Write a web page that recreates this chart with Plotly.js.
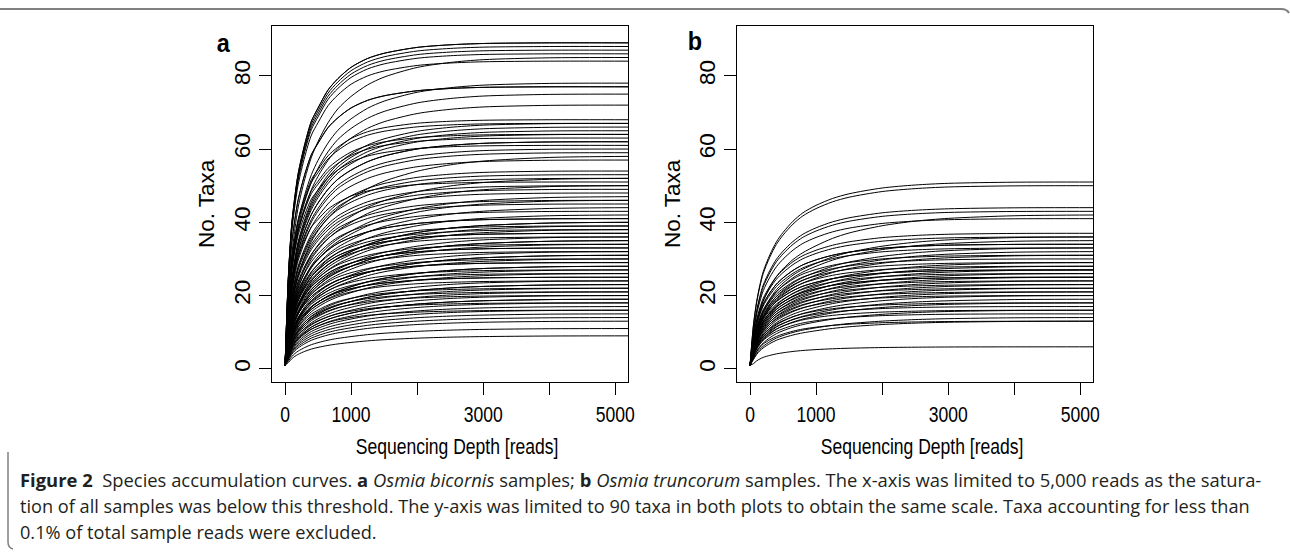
<!DOCTYPE html>
<html>
<head>
<meta charset="utf-8">
<script src="https://cdn.plot.ly/plotly-3.0.1.min.js"></script>
<style>
html,body{margin:0;padding:0;background:#ffffff;}
#chart{width:1290px;height:553px;}
</style>
</head>
<body>
<div id="chart"></div>
<script>
// ---------------- data ----------------
// sequencing depths (reads) at which the curves are sampled
const depthReads = [1, 50, 100, 150, 200, 300, 400, 500, 650, 800, 1000, 1250, 1500, 2000, 2500, 3000, 4000, 5200];
// taxa observed with a single read
const startTaxa = 1;
// fraction of final richness reached at each depth (first entry is the 1-read start)
const shapeFast = [null, 0.28, 0.44, 0.53, 0.60, 0.69, 0.76, 0.80, 0.855, 0.89, 0.925, 0.952, 0.968, 0.986, 0.994, 0.998, 1, 1];
const shapeMid  = [null, 0.23, 0.36, 0.45, 0.52, 0.61, 0.68, 0.73, 0.79, 0.835, 0.875, 0.912, 0.937, 0.968, 0.984, 0.993, 0.999, 1];
const shapeSlow = [null, 0.19, 0.30, 0.38, 0.44, 0.53, 0.60, 0.65, 0.71, 0.755, 0.80, 0.848, 0.883, 0.93, 0.96, 0.978, 0.995, 1];

// panel a: Osmia bicornis samples, final number of taxa per sample
const richnessA = [
  89, 89, 88, 87, 86, 85, 84,
  78, 77, 77, 75, 72,
  68, 67, 67, 66, 65, 64, 64, 63, 62, 62, 61, 60, 59, 58, 57,
  54, 53, 52, 52, 51, 50, 50, 49, 48, 47, 46, 46,
  45, 44, 43, 42, 41, 41, 40, 40, 39, 39, 38, 38, 37, 37, 36, 36, 35, 35, 34, 34,
  33, 33, 32, 32, 31, 31, 30, 30, 29, 29, 28, 28, 27, 27, 26, 26, 25, 25, 24, 24,
  23, 23, 22, 22, 21, 21, 20, 20, 19, 19, 18, 18, 17, 16, 16, 15, 14, 13, 11, 9
];
const shapeA = ("fffffmf" + "mffmm" + "fmfmmfmfmmfmmsm" + "mmsmfmsmmsmsm" +
  "smsmmssmsmsmmsmssmsm" + "msmssmsmmssmsmsmmsms" + "ssmsmsmssmssmsssssss").split("");

// panel b: Osmia truncorum samples, final number of taxa per sample
const richnessB = [
  51, 50, 44, 43, 42, 41, 37, 36, 36, 35, 34, 34, 33, 33, 32, 31, 31, 30, 29, 29,
  28, 28, 27, 27, 27, 26, 26, 25, 25, 25, 24, 24, 23, 23, 22, 22, 21, 21, 20, 20,
  19, 18, 18, 17, 16, 16, 15, 14, 13, 13, 6
];
const shapeB = ("mmmmsm" + "msmsmmsmsmsmmsms" + "msmsmsmmsmsmsmsm" + "smsmsmsmmsmsm").split("");

// axis ticks
const xTickVals = [0, 1000, 2000, 3000, 4000, 5000];
const xTickText = ["0", "1000", "", "3000", "", "5000"];
const yTickVals = [0, 20, 40, 60, 80];
const yTickText = ["0", "20", "40", "60", "80"];

const panelLetters = ["a", "b"];
const xTitle = "Sequencing Depth [reads]";
const yTitle = "No. Taxa";
const captionLines = [
  "<b>Figure 2</b>  Species accumulation curves. <b>a</b> <i>Osmia bicornis</i> samples; <b>b</b> <i>Osmia truncorum</i> samples. The x-axis was limited to 5,000 reads as the satura-",
  "tion of all samples was below this threshold. The y-axis was limited to 90 taxa in both plots to obtain the same scale. Taxa accounting for less than",
  "0.1% of total sample reads were excluded."
];

// ---------------- build ----------------
const shapes = {f: shapeFast, m: shapeMid, s: shapeSlow};
function curve(rich, key, xa, ya) {
  const prof = shapes[key] || shapeSlow;
  const y = prof.map((p, i) => i === 0 ? startTaxa : Math.max(startTaxa, rich * p));
  return {
    type: "scatter", mode: "lines", x: depthReads, y: y, xaxis: xa, yaxis: ya,
    line: {color: "#000000", width: 1, shape: "spline", smoothing: 0.8},
    hoverinfo: "skip", showlegend: false
  };
}
const traces = [];
richnessA.forEach((r, i) => traces.push(curve(r, shapeA[i], "x", "y")));
richnessB.forEach((r, i) => traces.push(curve(r, shapeB[i], "x2", "y2")));

const W = 1290, H = 553;
const px = v => v / W, py = v => 1 - v / H;

const FAM = "Liberation Sans, Arial, sans-serif";
const fontTick = {family: FAM, size: 22.5, color: "#000000"};
function xAxis(domain, anchor) {
  return {
    domain: domain, anchor: anchor, range: [-197, 5192],
    showline: true, mirror: true, linecolor: "#000000", linewidth: 1,
    ticks: "outside", ticklen: 12, tickwidth: 1, tickcolor: "#000000",
    tickmode: "array", tickvals: xTickVals, ticktext: xTickText,
    tickfont: fontTick, showgrid: false, zeroline: false, fixedrange: true
  };
}
function yAxis(domain, anchor) {
  return {
    domain: domain, anchor: anchor, range: [-3.6, 93.6],
    showline: true, mirror: true, linecolor: "#000000", linewidth: 1,
    ticks: "outside", ticklen: 12, tickwidth: 1, tickcolor: "#000000",
    tickmode: "array", tickvals: yTickVals, ticktext: yTickText, tickangle: -90,
    tickfont: fontTick, showgrid: false, zeroline: false, fixedrange: true
  };
}
const yDom = [py(382), py(26)];

const annotations = [
  {text: "<b>" + panelLetters[0] + "</b>", x: px(223), y: py(43), xref: "paper", yref: "paper", showarrow: false,
   font: {family: FAM, size: 26, color: "#000"}, xanchor: "center", yanchor: "middle"},
  {text: "<b>" + panelLetters[1] + "</b>", x: px(695), y: py(41), xref: "paper", yref: "paper", showarrow: false,
   font: {family: FAM, size: 26, color: "#000"}, xanchor: "center", yanchor: "middle"},
  {text: xTitle, x: px(457), y: py(447), xref: "paper", yref: "paper", showarrow: false, font: fontTick, xanchor: "center", yanchor: "middle"},
  {text: xTitle, x: px(922), y: py(447), xref: "paper", yref: "paper", showarrow: false, font: fontTick, xanchor: "center", yanchor: "middle"},
  {text: yTitle, x: px(206), y: py(204), xref: "paper", yref: "paper", showarrow: false, font: fontTick, textangle: -90, xanchor: "center", yanchor: "middle"},
  {text: yTitle, x: px(672), y: py(204), xref: "paper", yref: "paper", showarrow: false, font: fontTick, textangle: -90, xanchor: "center", yanchor: "middle"}
];
const capFont = {family: "Open Sans, Noto Sans, sans-serif", size: 18, color: "#231f20"};
const capBase = [489, 515, 541];
captionLines.forEach((t, i) => annotations.push({
  text: t, x: px(20), y: py(capBase[i] + 5), xref: "paper", yref: "paper", showarrow: false,
  font: capFont, xanchor: "left", yanchor: "bottom", align: "left"
}));

function pathPx(cmds) {
  return cmds.map(c => c[0] + " " + c.slice(1).map((v, k) => k % 2 === 0 ? px(v) : py(v)).join(" ")).join(" ");
}
const frameShapes = [
  {type: "path", xref: "paper", yref: "paper",
   path: pathPx([["M", -2, 9], ["L", 1281, 9], ["Q", 1287, 9, 1289, 13]]),
   line: {color: "#808080", width: 2}},
  {type: "path", xref: "paper", yref: "paper",
   path: pathPx([["M", 8, 452], ["L", 8, 542], ["Q", 8, 548, 13, 549]]),
   line: {color: "#808080", width: 1.5}}
];

const layout = {
  width: W, height: H, margin: {l: 0, r: 0, t: 0, b: 0},
  paper_bgcolor: "#ffffff", plot_bgcolor: "#ffffff", showlegend: false,
  font: fontTick,
  xaxis: xAxis([px(272), px(628)], "y"),
  yaxis: yAxis(yDom, "x"),
  xaxis2: xAxis([px(737), px(1093)], "y2"),
  yaxis2: yAxis(yDom, "x2"),
  annotations: annotations,
  shapes: frameShapes
};

// horizontal narrowing of the reference's type (applied to rendered SVG groups)
function squeeze(el, s, anchor) {
  if (!el) return;
  const bb = el.getBBox();
  const cx = anchor === "left" ? bb.x : bb.x + bb.width / 2;
  el.setAttribute("transform", "translate(" + (cx * (1 - s)) + ",0) scale(" + s + ",1)");
}

const gd = document.getElementById("chart");
Plotly.newPlot(gd, traces, layout, {staticPlot: true, displayModeBar: false}).then(() => {
  const S = 0.78;
  gd.querySelectorAll("g.xtick, g.x2tick").forEach(g => squeeze(g, S, "center"));
  [0, 1, 2, 3].forEach(i => squeeze(gd.querySelector('g.annotation[data-index="' + i + '"]'), i < 2 ? 0.9 : S, "center"));
  // caption lines: lines 1-2 are justified to the reference line ends, line 3 uses line 2's ratio
  const rightEdge = [1262, 1250, null];
  let lastS = 1;
  rightEdge.forEach((r, i) => {
    const g = gd.querySelector('g.annotation[data-index="' + (6 + i) + '"]');
    if (!g) return;
    const t = g.querySelector("text");
    const bb = t.getBBox();
    const s = r ? (r - 20) / bb.width : lastS;
    if (r) lastS = s;
    squeeze(g, s, "left");
    const tb = t.getBoundingClientRect();
    const dx = 20 - tb.left;
    g.setAttribute("transform", "translate(" + dx + ",0) " + g.getAttribute("transform"));
  });
});
</script>
</body>
</html>
